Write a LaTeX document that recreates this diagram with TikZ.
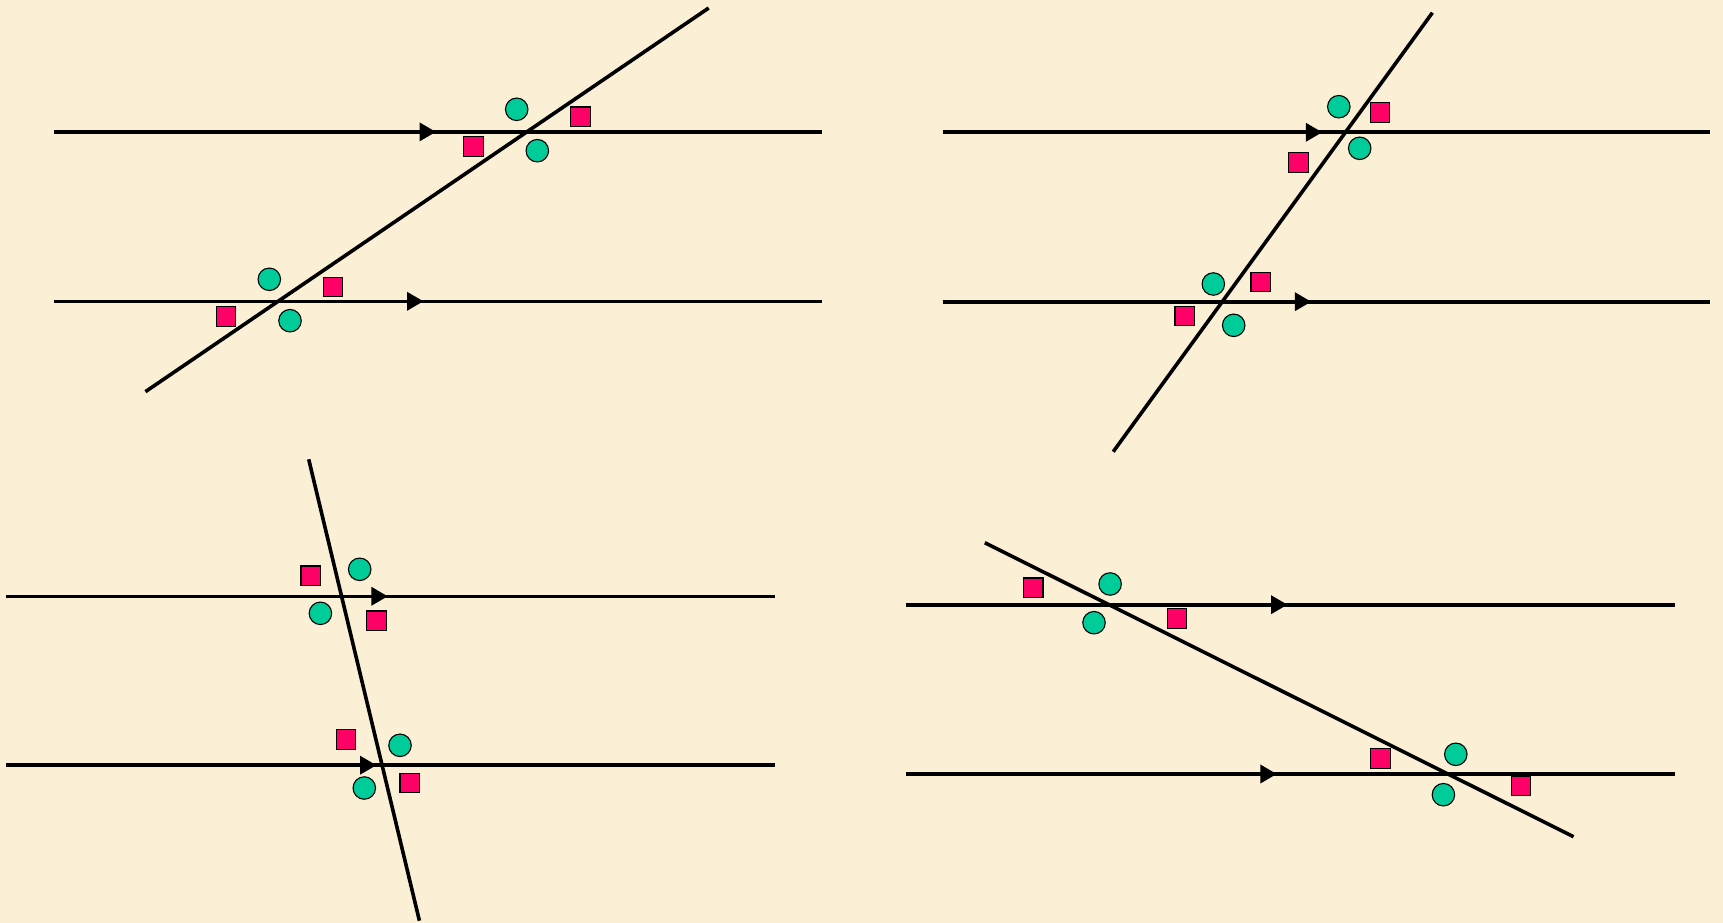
\documentclass[tikz,border=0pt]{standalone}
\usetikzlibrary{arrows.meta}
\definecolor{bgcol}{HTML}{FBF0D6}
\definecolor{mkteal}{HTML}{00CC99}
\definecolor{mkpink}{HTML}{FF0066}
\begin{document}
\begin{tikzpicture}[x=1pt,y=-1pt,
  pline/.style={line width=3.6pt},
  arr/.style={-{Triangle[length=16.5pt,width=18pt]}},
  circ/.style={circle,draw=black,line width=1.1pt,fill=mkteal,minimum size=22.5pt,inner sep=0pt},
  sq/.style={rectangle,draw=black,line width=1.1pt,fill=mkpink,minimum size=19.5pt,inner sep=0pt}]
\fill[bgcol] (0,0) rectangle (1723,923);
\useasboundingbox (0,0) rectangle (1723,923);

% ---------- Panel 1 (top left) ----------
\coordinate (p1aL) at (53.8,131.9); \coordinate (p1aT) at (436,131.9); \coordinate (p1aR) at (821.7,131.9);
\coordinate (p1bL) at (53.8,301.3); \coordinate (p1bT) at (423.5,301.3); \coordinate (p1bR) at (821.7,301.3);
\coordinate (p1s) at (145.4,391.7); \coordinate (p1e) at (708.7,8);
\draw[pline] (p1aL) -- (p1aR); \draw[pline,arr] (p1aL) -- (p1aT);
\draw[pline] (p1bL) -- (p1bR); \draw[pline,arr] (p1bL) -- (p1bT);
\draw[pline] (p1s) -- (p1e);
\node[circ] (p1c1) at (516.7,109.3) {};
\node[circ] (p1c2) at (537.3,150.7) {};
\node[sq] (p1q1) at (580.3,116.8) {};
\node[sq] (p1q2) at (473.3,146.3) {};
\node[circ] (p1c3) at (269.3,279.3) {};
\node[circ] (p1c4) at (290,320.7) {};
\node[sq] (p1q3) at (332.8,287) {};
\node[sq] (p1q4) at (225.8,316.3) {};

% ---------- Panel 2 (top right) ----------
\coordinate (p2aL) at (942.6,132.3); \coordinate (p2aT) at (1322.3,132.3); \coordinate (p2aR) at (1710.3,132.3);
\coordinate (p2bL) at (942.6,301.7); \coordinate (p2bT) at (1311.3,301.7); \coordinate (p2bR) at (1710.3,301.7);
\coordinate (p2s) at (1113.2,451.7); \coordinate (p2e) at (1432.4,12.7);
\draw[pline] (p2aL) -- (p2aR); \draw[pline,arr] (p2aL) -- (p2aT);
\draw[pline] (p2bL) -- (p2bR); \draw[pline,arr] (p2bL) -- (p2bT);
\draw[pline] (p2s) -- (p2e);
\node[circ] (p2c1) at (1338.8,106.7) {};
\node[sq] (p2q1) at (1380.1,112.7) {};
\node[circ] (p2c2) at (1359.7,148.3) {};
\node[sq] (p2q2) at (1298.6,162.3) {};
\node[circ] (p2c3) at (1213.3,284) {};
\node[sq] (p2q3) at (1260.7,282) {};
\node[circ] (p2c4) at (1233.7,325.3) {};
\node[sq] (p2q4) at (1184.7,316) {};

% ---------- Panel 3 (bottom left) ----------
\coordinate (p3aL) at (6,596.3); \coordinate (p3aT) at (387.8,596.3); \coordinate (p3aR) at (774.5,596.3);
\coordinate (p3bL) at (6,765.2); \coordinate (p3bT) at (376.5,765.2); \coordinate (p3bR) at (774.5,765.2);
\coordinate (p3s) at (308.7,459.3); \coordinate (p3e) at (419.4,920.7);
\draw[pline] (p3aL) -- (p3aR); \draw[pline,arr] (p3aL) -- (p3aT);
\draw[pline] (p3bL) -- (p3bR); \draw[pline,arr] (p3bL) -- (p3bT);
\draw[pline] (p3s) -- (p3e);
\node[sq] (p3q1) at (310.7,575.7) {};
\node[circ] (p3c1) at (359.7,569.3) {};
\node[circ] (p3c2) at (320.4,613.3) {};
\node[sq] (p3q2) at (376.5,620.7) {};
\node[sq] (p3q3) at (345.9,739.3) {};
\node[circ] (p3c3) at (400,745.3) {};
\node[circ] (p3c4) at (364.3,788) {};
\node[sq] (p3q4) at (409.7,783) {};

% ---------- Panel 4 (bottom right) ----------
\coordinate (p4aL) at (905.8,604.7); \coordinate (p4aT) at (1287.5,604.7); \coordinate (p4aR) at (1674.6,604.7);
\coordinate (p4bL) at (905.8,774); \coordinate (p4bT) at (1276.8,774); \coordinate (p4bR) at (1674.6,774);
\coordinate (p4s) at (984.8,542.7); \coordinate (p4e) at (1573.5,836.7);
\draw[pline] (p4aL) -- (p4aR); \draw[pline,arr] (p4aL) -- (p4aT);
\draw[pline] (p4bL) -- (p4bR); \draw[pline,arr] (p4bL) -- (p4bT);
\draw[pline] (p4s) -- (p4e);
\node[sq] (p4q1) at (1033.2,587.7) {};
\node[circ] (p4c1) at (1110.1,584) {};
\node[circ] (p4c2) at (1094,622.7) {};
\node[sq] (p4q2) at (1176.8,618.3) {};
\node[sq] (p4q3) at (1380.5,758.3) {};
\node[circ] (p4c3) at (1455.8,754.3) {};
\node[circ] (p4c4) at (1443.4,794.7) {};
\node[sq] (p4q4) at (1520.9,785.7) {};
\end{tikzpicture}
\end{document}
